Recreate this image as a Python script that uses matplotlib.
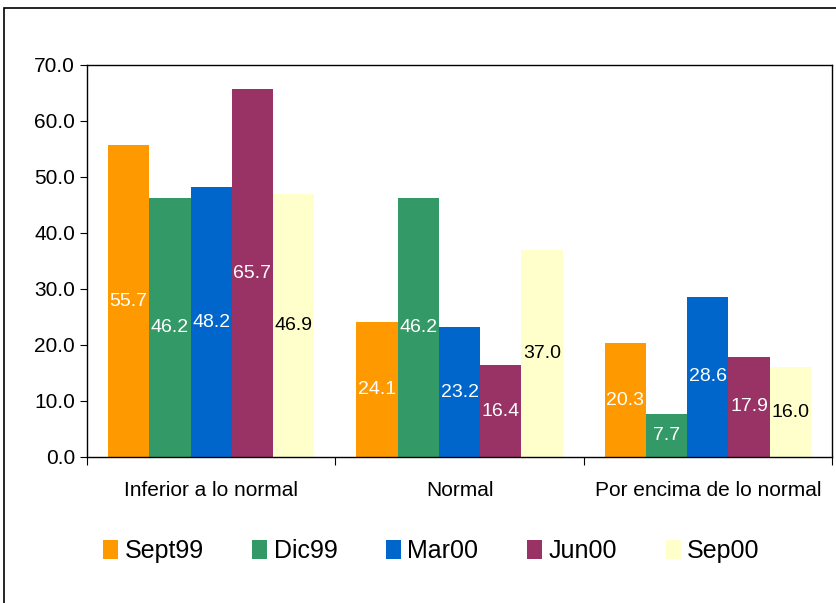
import matplotlib.pyplot as plt
from matplotlib.patches import Rectangle
import numpy as np

plt.rcParams['font.family'] = ['Liberation Sans', 'DejaVu Sans']

categories = ['Inferior a lo normal', 'Normal', 'Por encima de lo normal']
series_names = ['Sept99', 'Dic99', 'Mar00', 'Jun00', 'Sep00']
sept99 = [55.7, 24.1, 20.3]
dic99 = [46.2, 46.2, 7.7]
mar00 = [48.2, 23.2, 28.6]
jun00 = [65.7, 16.4, 17.9]
sep00 = [46.9, 37.0, 16.0]
colors = ['#FF9900', '#339966', '#0066CC', '#993366', '#FFFFCC']
label_colors = ['white', 'white', 'white', 'white', 'black']

fig = plt.figure(figsize=(8.36, 6.03), dpi=100)
ax = fig.add_axes([87 / 836, 1 - 457 / 603, 745 / 836, 392 / 603])

# outer chart border
fig.patches.append(Rectangle((4 / 836, -0.01), 1.0, 1 - 8 / 603 + 0.01,
                             transform=fig.transFigure, fill=False,
                             edgecolor='black', linewidth=1.2))

x = np.arange(len(categories))
w = 0.166
all_series = [sept99, dic99, mar00, jun00, sep00]
for i, vals in enumerate(all_series):
    pos = x + (i - 2) * w
    bars = ax.bar(pos, vals, width=w, color=colors[i], label=series_names[i])
    for b, v in zip(bars, vals):
        ax.text(b.get_x() + b.get_width() / 2, v / 2, '%.1f' % v,
                ha='center', va='center', color=label_colors[i], fontsize=14)

ax.set_xlim(-0.5, 2.5)
ax.set_ylim(0, 70)
ax.set_yticks(np.arange(0, 71, 10))
ax.set_yticklabels(['%.1f' % t for t in np.arange(0, 71, 10)], fontsize=15)
ax.set_xticks([-0.5, 0.5, 1.5, 2.5])
ax.set_xticklabels([])
ax.set_xticks(x, minor=True)
ax.set_xticklabels(categories, minor=True, fontsize=15)
ax.tick_params(axis='x', which='minor', length=0, pad=17)
ax.tick_params(axis='x', which='major', length=6, direction='out')
ax.tick_params(axis='y', length=5, direction='out')
for s in ax.spines.values():
    s.set_linewidth(1.0)

fig.legend(loc='center', bbox_to_anchor=(0.516, 1 - 551 / 603), ncol=5,
           frameon=False, fontsize=18, handlelength=0.6, handleheight=0.8,
           handletextpad=0.25, columnspacing=1.95)

plt.savefig('out.png', dpi=100)
